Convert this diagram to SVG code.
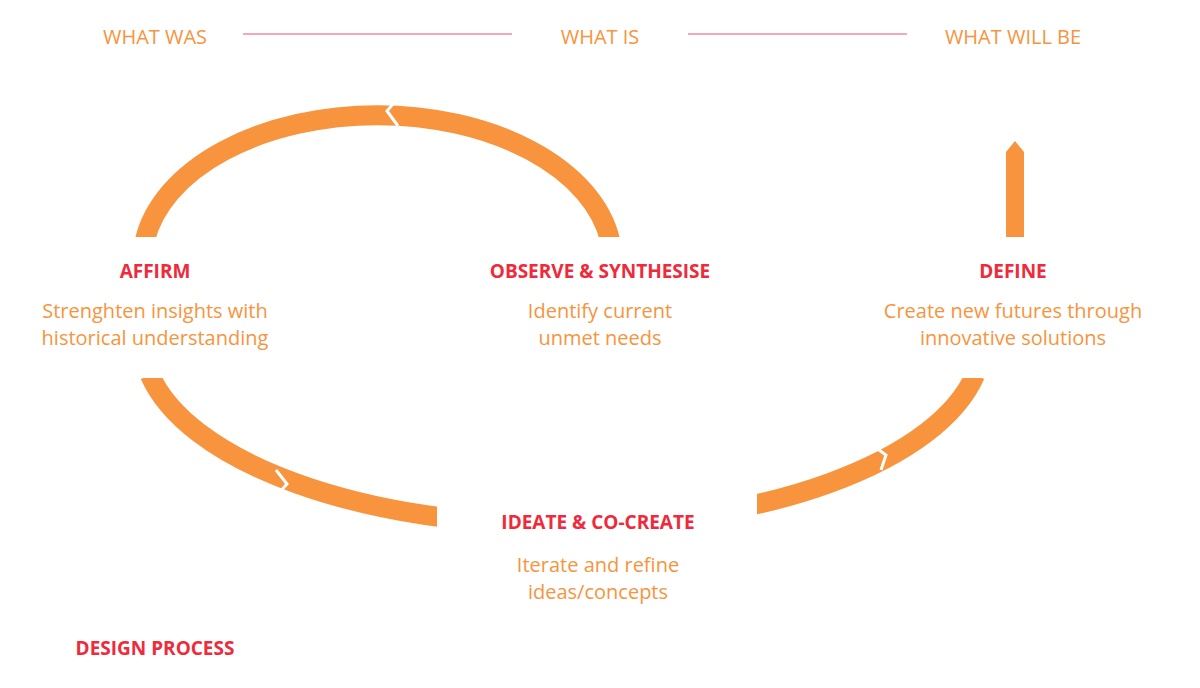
<svg xmlns="http://www.w3.org/2000/svg" width="1200" height="688" viewBox="0 0 1200 688">
<style>
.h{font-family:"Open Sans","Liberation Sans",sans-serif;font-size:19px;font-weight:bold;fill:#EE2A3B;text-anchor:middle}
.b{font-family:"Open Sans","Liberation Sans",sans-serif;font-size:20px;fill:#F7943D;text-anchor:middle}
.t{font-family:"Open Sans","Liberation Sans",sans-serif;font-size:20px;fill:#F7943D;text-anchor:middle}
.ring{fill:none;stroke:#F7943D;stroke-width:20}
.notch{fill:none;stroke:#fff;stroke-width:3}
</style>
<rect width="1200" height="688" fill="#fff"/>
<g id="connectors">
<line x1="243" y1="34" x2="512" y2="34" stroke="#F08CA0" stroke-width="1.5"/>
<line x1="688" y1="34" x2="907" y2="34" stroke="#F08CA0" stroke-width="1.5"/>
<path class="ring" d="M145,240 A235 146 0 0 1 610,240"/>
<path class="ring" d="M150,375 A420 185 0 0 0 975,375"/>
<polygon points="1006,237 1006,152 1015,141 1024,152 1024,237" fill="#F7943D"/>
<polyline class="notch" points="398,98 387,111 398,126"/>
<polyline class="notch" points="276,470 287,484 276,496"/>
<polyline class="notch" points="872,445 886,455 881,470"/>
</g>
<rect x="0" y="237" width="310" height="141" fill="#fff"/>
<rect x="430" y="237" width="340" height="100" fill="#fff"/>
<rect x="840" y="237" width="360" height="141" fill="#fff"/>
<rect x="437" y="485" width="320" height="130" fill="#fff"/>
<g id="what-was"><text class="t" x="155" y="44">WHAT WAS</text></g>
<g id="what-is"><text class="t" x="600" y="44">WHAT IS</text></g>
<g id="what-will-be"><text class="t" x="1013" y="44">WHAT WILL BE</text></g>
<g id="affirm"><text class="h" x="155" y="278">AFFIRM</text>
<text class="b" x="155" y="318">Strenghten insights with</text><text class="b" x="155" y="345">historical understanding</text></g>
<g id="observe"><text class="h" x="600" y="278">OBSERVE &amp; SYNTHESISE</text>
<text class="b" x="600" y="318">Identify current</text><text class="b" x="600" y="345">unmet needs</text></g>
<g id="define"><text class="h" x="1013" y="278">DEFINE</text>
<text class="b" x="1013" y="318">Create new futures through</text><text class="b" x="1013" y="345">innovative solutions</text></g>
<g id="ideate"><text class="h" x="598" y="529">IDEATE &amp; CO-CREATE</text>
<text class="b" x="598" y="572">Iterate and refine</text><text class="b" x="598" y="599">ideas/concepts</text></g>
<g id="title"><text class="h" x="155" y="655">DESIGN PROCESS</text></g>
</svg>
